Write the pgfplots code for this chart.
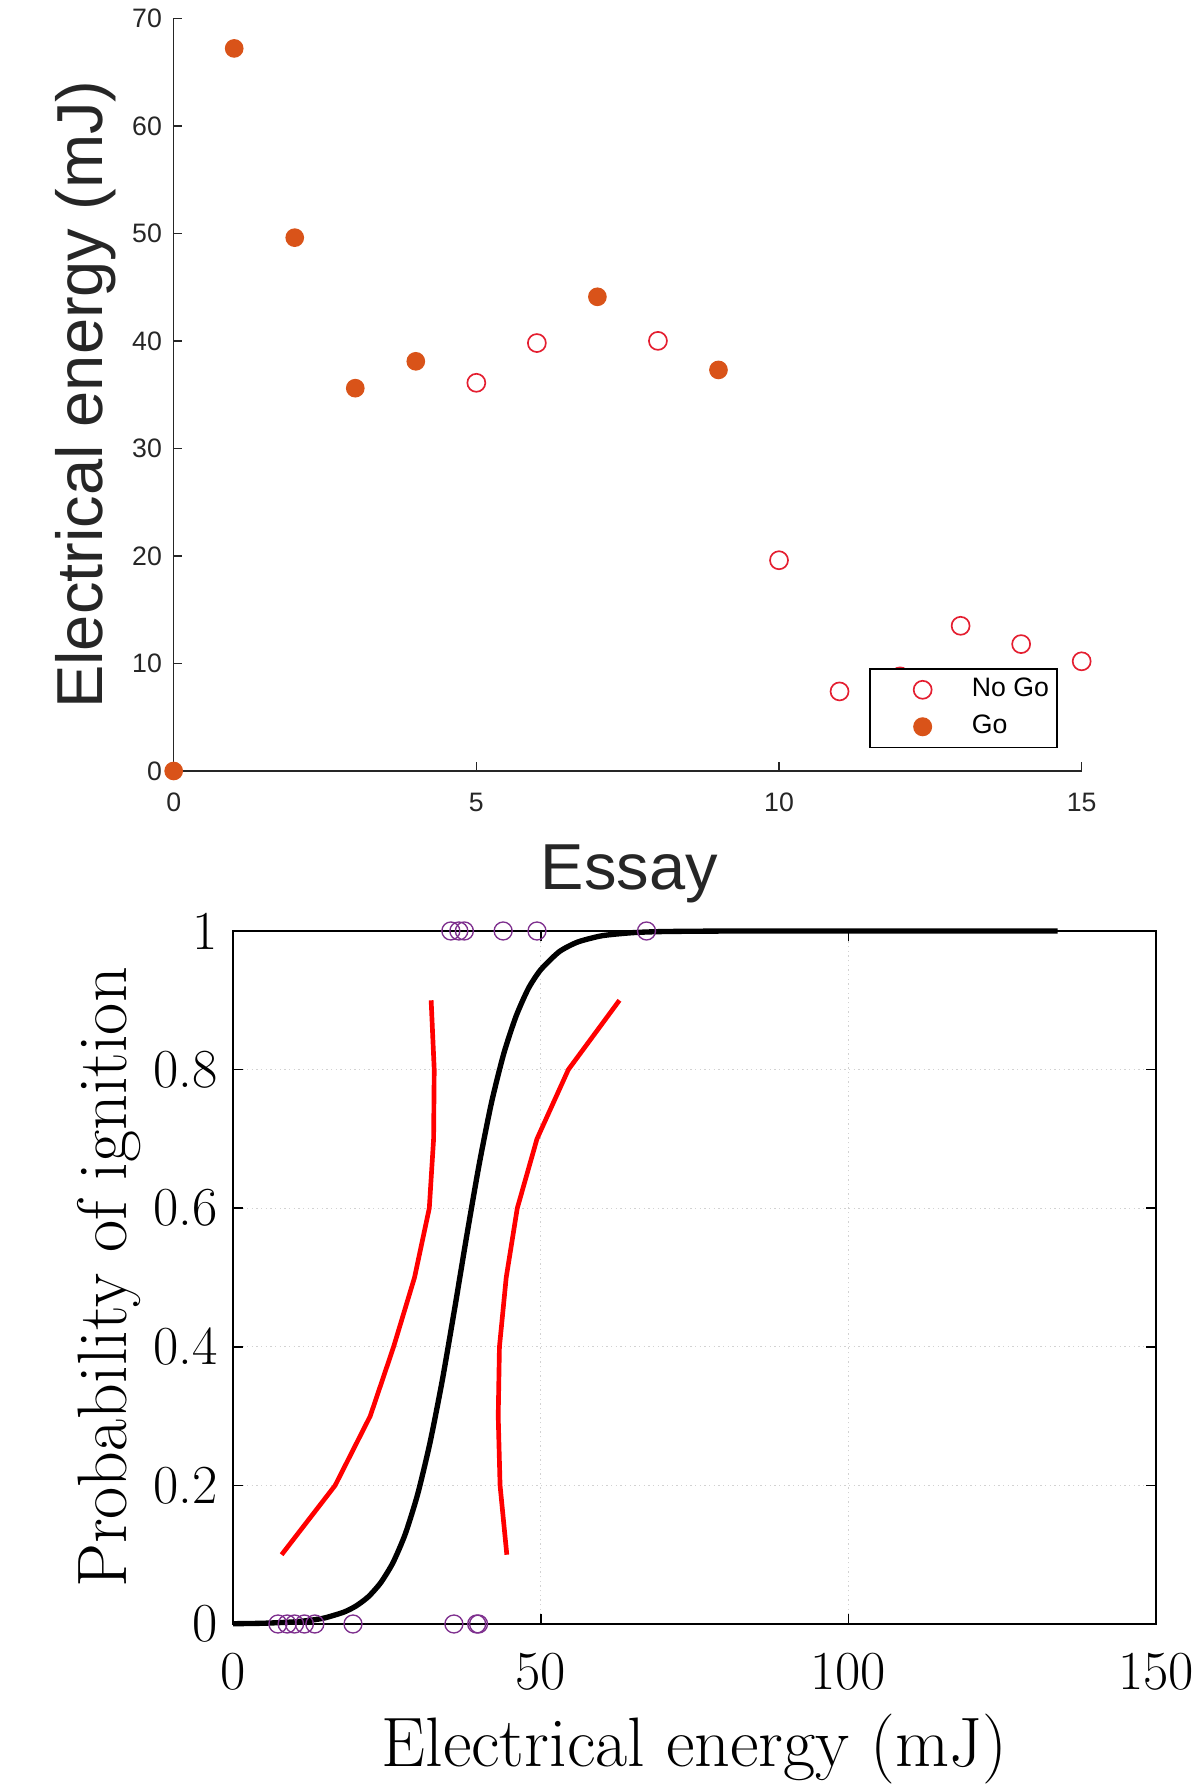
\documentclass[border=0pt]{standalone}
\usepackage{fontspec}
\usepackage{pgfplots}
\pgfplotsset{compat=1.18}
\newfontfamily\arialf{Liberation Sans}
\definecolor{goorange}{RGB}{217,83,25}
\definecolor{nogored}{RGB}{228,30,48}
\definecolor{mpurple}{RGB}{126,47,142}
\definecolor{mgray}{RGB}{38,38,38}

\begin{document}
\begin{tikzpicture}
\useasboundingbox (0,0) rectangle (359.1pt,537.3pt);

% top: energy per essay
\begin{axis}[
    at={(52.1pt,306pt)}, anchor=south west,
    scale only axis, width=272.4pt, height=225.8pt,
    xmin=0, xmax=15, ymin=0, ymax=70,
    xtick={0,5,10,15}, ytick={0,10,...,70},
    axis lines=left, axis line style={-, mgray, line width=0.45pt},
    tick align=inside, major tick length=2.6pt,
    tick style={mgray, line width=0.45pt},
    /pgf/number format/assume math mode=true,
    tick label style={font=\arialf\fontsize{8}{9}\selectfont, text=mgray},
    xticklabel style={yshift=-3pt},
    xlabel={Essay}, ylabel={Electrical energy (mJ)},
    label style={font=\arialf\fontsize{19.5}{22}\selectfont, text=black!85},
    xlabel style={at={(axis description cs:0.502,-0.137)}, anchor=center},
    ylabel style={at={(axis description cs:-0.097,0.5)}, anchor=center},
    clip=false,
    legend style={at={(0.974,0.030)}, anchor=south east, draw=black,
        line width=0.5pt, inner xsep=0.5pt, inner ysep=0.7pt,
        font=\arialf\fontsize{8}{9}\selectfont, cells={anchor=west}},
    legend image code/.code={\path (-3.5pt,0pt) (24pt,0pt); \draw[#1] plot coordinates {(11.5pt,0pt)};},
]
\addplot[only marks, mark=o, mark size=2.7pt, nogored, line width=0.5pt] coordinates {
(5,36.1) (6,39.8) (8,40.0) (10,19.6) (11,7.4) (12,8.8) (13,13.5) (14,11.8) (15,10.2)};
\addlegendentry{No Go}
\addplot[only marks, mark=*, mark size=2.6pt, goorange] coordinates {
(0,0) (1,67.2) (2,49.6) (3,35.6) (4,38.1) (7,44.1) (9,37.3)};
\addlegendentry{Go}
\end{axis}

% bottom: probability of ignition
\begin{axis}[
    at={(69.9pt,50.1pt)}, anchor=south west,
    scale only axis, width=276.9pt, height=207.9pt,
    xmin=0, xmax=150, ymin=0, ymax=1,
    xtick={0,50,100,150}, ytick={0,0.2,...,1},
    axis line style={black, line width=0.5pt},
    tick align=inside, major tick length=3pt,
    tick style={black, line width=0.5pt},
    grid=major, grid style={densely dotted, gray!35, line width=0.4pt},
    /pgf/number format/assume math mode=true,
    tick label style={font=\fontsize{16.5}{18}\selectfont},
    xticklabel style={yshift=-5.2pt},
    yticklabel style={xshift=-1pt},
    xlabel={Electrical energy (mJ)}, ylabel={Probability of ignition},
    label style={font=\fontsize{21}{24}\selectfont},
    xlabel style={at={(axis description cs:0.5,-0.181)}, anchor=center},
    ylabel style={at={(axis description cs:-0.134,0.5)}, anchor=center},
    clip=false,
]
\addplot[black, line width=1.6pt, smooth, tension=0.4] coordinates {
(0,0.0004) (5,0.0011) (10,0.0031) (13,0.0059) (15,0.0090) (18,0.0171)
(20,0.026) (22,0.0394) (24,0.0595) (26,0.0885) (28,0.130) (30,0.187)
(32,0.261) (34,0.351) (36,0.454) (38,0.561) (40,0.663) (42,0.752)
(44,0.823) (46,0.877) (48,0.917) (50,0.944) (53,0.970) (56,0.984)
(60,0.9932) (65,0.9976) (70,0.9992) (80,0.9999) (100,1) (134,1)};
\addplot[red, line width=1.4pt] coordinates {
(7.9,0.1) (16.6,0.2) (22.3,0.3) (26.1,0.4) (29.5,0.5) (31.9,0.6) (32.6,0.7) (32.7,0.8) (32.2,0.9)};
\addplot[red, line width=1.4pt] coordinates {
(44.5,0.1) (43.4,0.2) (43.1,0.3) (43.3,0.4) (44.4,0.5) (46.2,0.6) (49.4,0.7) (54.5,0.8) (62.8,0.9)};
\addplot[only marks, mark=o, mark size=2.7pt, mpurple, line width=0.4pt] coordinates {
(7.3,0) (8.8,0) (10.0,0) (11.6,0) (13.3,0) (19.5,0) (35.9,0) (39.6,0) (39.9,0)
(35.4,1) (36.7,1) (37.6,1) (43.9,1) (49.4,1) (67.2,1)};
\end{axis}
\end{tikzpicture}
\end{document}
